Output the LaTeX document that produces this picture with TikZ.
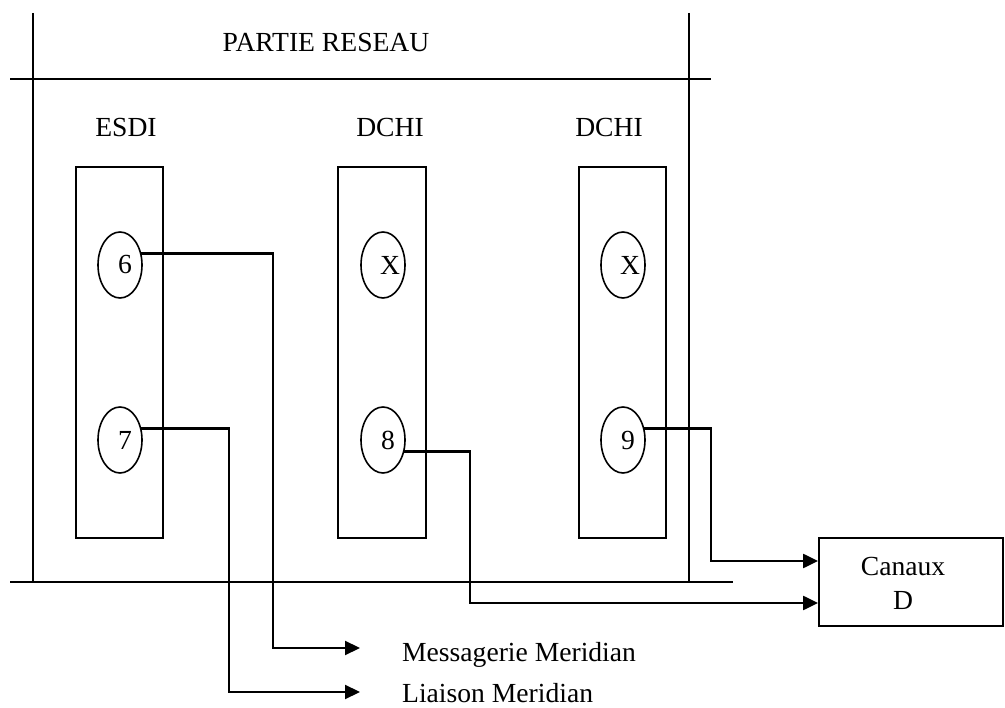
\documentclass[tikz,border=0pt]{standalone}
\usepackage{fontspec}
\setmainfont{Liberation Serif}
\usetikzlibrary{arrows.meta,shapes.geometric}
\begin{document}
\begin{tikzpicture}[x=1pt,y=-1pt,
  frame/.style={line width=1.8pt},
  card/.style={draw,line width=1.8pt,rectangle,inner sep=0pt},
  port/.style={draw,line width=1.6pt,ellipse,minimum width=44pt,minimum height=66pt,inner sep=0pt},
  lbl/.style={font=\fontsize{27.6}{34}\selectfont,inner sep=0pt},
  conn/.style={line width=2.2pt,-{Triangle[length=15pt,width=14pt]}},
]
\useasboundingbox (0,0) rectangle (1005,708);
% frame
\draw[frame] (33,13) -- (33,582);
\draw[frame] (689,13) -- (689,582);
\draw[frame] (10,79) -- (711,79);
\draw[frame] (10,582) -- (733,582);
\draw[line width=2.6pt] (55,79) -- (76,79);
\draw[line width=2.6pt] (602,79) -- (644,79);
\node[lbl,anchor=base] (titre) at (326,52) {PARTIE RESEAU};
% cards
\node[card,minimum width=87pt,minimum height=371pt] (c1) at (119.5,352.5) {};
\node[card,minimum width=88pt,minimum height=371pt] (c2) at (382,352.5) {};
\node[card,minimum width=87pt,minimum height=371pt] (c3) at (622.5,352.5) {};
\node[lbl,anchor=base] (l1) at (126,137) {ESDI};
\node[lbl,anchor=base] (l2) at (390,137) {DCHI};
\node[lbl,anchor=base] (l3) at (609,137) {DCHI};
% ports
\node[port] (e6) at (120,265) {};
\node[port] (e7) at (120,440) {};
\node[port] (x1) at (383,265) {};
\node[port] (e8) at (383,440) {};
\node[port] (x2) at (623,265) {};
\node[port] (e9) at (623,440) {};
\node[lbl] (t6) at ([xshift=5pt]e6.center) {6};
\node[lbl] (t7) at ([xshift=5pt]e7.center) {7};
\node[lbl] (tx1) at ([xshift=7pt]x1.center) {X};
\node[lbl] (t8) at ([xshift=5pt]e8.center) {8};
\node[lbl] (tx2) at ([xshift=7pt]x2.center) {X};
\node[lbl] (t9) at ([xshift=5pt]e9.center) {9};
% destinations
\node[card,minimum width=184pt,minimum height=88pt] (cd) at (911,582) {};
\node[lbl,align=center] (cdt) at (903,583) {Canaux\\D};
\node[lbl,anchor=base west] (msg) at (402,661) {Messagerie Meridian};
\node[lbl,anchor=base west] (lia) at (402,702) {Liaison Meridian};
\coordinate (mtip) at (360,648);
\coordinate (ltip) at (360,692);
\coordinate (d9) at (cd.west |- 0,561);
\coordinate (d8) at (cd.west |- 0,603);
% connectors
\draw[conn] (e6.28) -| (273,648) -- (mtip);
\draw[conn] (e7.28) -| (229,692) -- (ltip);
\draw[conn] (e8.-28) -| (470,603) -- (d8);
\draw[conn] (e9.28) -| (711,561) -- (d9);
\end{tikzpicture}
\end{document}
